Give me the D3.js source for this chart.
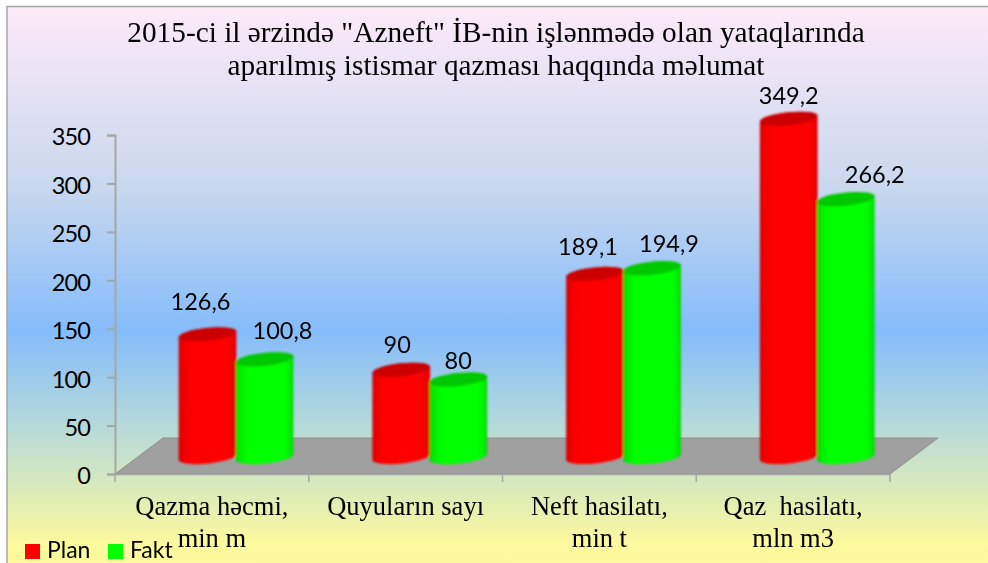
<!DOCTYPE html>
<html><head><meta charset="utf-8">
<script src="https://cdn.jsdelivr.net/npm/d3@7"></script>
<style>html,body{margin:0;padding:0;background:#fff;overflow:hidden}svg{display:block}</style>
</head><body><div id="c"></div>
<script>
const categories = [["Qazma həcmi,","min m"],["Quyuların sayı"],["Neft hasilatı,","min t"],["Qaz  hasilatı,","mln m3"]];
const planValues = [126.6, 90, 189.1, 349.2];
const factValues = [100.8, 80, 194.9, 266.2];
const planLabels = ["126,6","90","189,1","349,2"];
const factLabels = ["100,8","80","194,9","266,2"];
const yTicks = [0,50,100,150,200,250,300,350];
const seriesNames = ["Plan","Fakt"];
const titleLines = ['2015-ci il ərzində "Azneft" İB-nin işlənmədə olan yataqlarında','aparılmış istismar qazması haqqında məlumat'];

const W=988,H=563;
const svg=d3.select("#c").append("svg").attr("width",W).attr("height",H);
const defs=svg.append("defs");
const bg=defs.append("linearGradient").attr("id","bg").attr("x1",0).attr("y1",0).attr("x2",0).attr("y2",1);
[[0,"#fdeaf9"],[0.32,"#c9d8ee"],[0.58,"#85bcfb"],[0.74,"#b3d8dc"],[0.84,"#d3e7c0"],[0.96,"#fcf99e"],[1,"#fdf99c"]].forEach(s=>bg.append("stop").attr("offset",s[0]).attr("stop-color",s[1]));
function cyl(id,edge,near,mid){const g=defs.append("linearGradient").attr("id",id);
 [[0,edge],[0.05,near],[0.22,mid],[0.85,mid],[0.96,near],[1,edge]].forEach(s=>g.append("stop").attr("offset",s[0]).attr("stop-color",s[1]));}
cyl("red","#d00000","#ea0000","#ff0000");cyl("green","#00d000","#00ea00","#00ff00");
defs.append("filter").attr("id","soft").append("feGaussianBlur").attr("stdDeviation",0.8);

svg.append("rect").attr("x",7).attr("y",6.5).attr("width",W-7+5).attr("height",H-6.5+3).attr("fill","url(#bg)").attr("stroke","#a6a6a6").attr("stroke-width",1.5);

const x=d3.scaleBand().domain(d3.range(categories.length)).range([115,890]);
const y=d3.scaleLinear().domain([0,350]).range([474,135]);
const inner=d3.scaleBand().domain([0,1]).range([64,178]);

// floor
const floorDepthX=48, floorDepthY=36;
const floor=d3.path();
floor.moveTo(115,474);floor.lineTo(115+floorDepthX,474-floorDepthY);floor.lineTo(890+floorDepthX,474-floorDepthY);floor.lineTo(890,474);floor.closePath();
svg.append("path").attr("d",floor.toString()).attr("fill","#a0a0a0").attr("stroke","#8f8f8f").attr("stroke-width",1);

// axes
const yAxis=d3.axisLeft(y).tickValues(yTicks).tickSize(8).tickPadding(17);
const gy=svg.append("g").attr("transform","translate(115,0)").call(yAxis);
const xAxis=d3.axisBottom(x).tickValues([]).tickSizeOuter(0);
const gx=svg.append("g").attr("transform","translate(0,474)").call(xAxis);
gx.selectAll("line.sep").data(d3.range(categories.length+1)).enter().append("line").attr("class","sep")
 .attr("x1",i=>x.range()[0]+i*x.bandwidth()).attr("x2",i=>x.range()[0]+i*x.bandwidth()).attr("y1",0).attr("y2",8).attr("stroke","#a6a6a6").attr("stroke-width",1.5);
[gy,gx].forEach(g=>{g.selectAll(".domain,.tick line").attr("stroke","#a6a6a6").attr("stroke-width",g===gy?2:1.5);});
gy.selectAll("text").attr("font-family","Lato, sans-serif").attr("font-size",23.5).attr("letter-spacing",-0.9).attr("dy","0.42em").attr("fill","#000");

// cylinders
const rx=29, ry=6.5, tilt=-6, lift=17;
const dx=rx*Math.cos(tilt*Math.PI/180), dy=rx*Math.sin(tilt*Math.PI/180);
function side(cx,v){const t=y(v)-lift,b=y(0)-lift;
 return `M${cx-dx},${t-dy}A${rx},${ry} ${tilt} 0 1 ${cx+dx},${t+dy}L${cx+dx},${b+dy}A${rx},${ry} ${tilt} 0 1 ${cx-dx},${b-dy}Z`;}
const series=[{vals:planValues,labs:planLabels,fill:"url(#red)",top:"#cc0000",i:0,nudge:[[-7,-24],[-4,-17],[-7,-19],[0,-15]]},
              {vals:factValues,labs:factLabels,fill:"url(#green)",top:"#00c800",i:1,nudge:[[18,-20],[0,-11],[17,-16],[29,-16]]}];
const barsG=svg.append("g").attr("filter","url(#soft)");
const order=[];categories.forEach((c,k)=>series.forEach(s=>order.push({k,s})));
order.forEach(({k,s})=>{
 const cx=x(k)+inner(s.i)+inner.bandwidth()/2, v=s.vals[k];
 barsG.append("path").attr("d",side(cx,v)).attr("fill",s.fill);
 barsG.append("ellipse").attr("rx",rx).attr("ry",ry).attr("fill",s.top)
  .attr("transform",`translate(${cx},${y(v)-lift}) rotate(${tilt})`);
});
// data labels
order.forEach(({k,s})=>{
 const cx=x(k)+inner(s.i)+inner.bandwidth()/2, v=s.vals[k];
 svg.append("text").attr("x",cx+s.nudge[k][0]).attr("y",y(v)-lift+s.nudge[k][1]).attr("text-anchor","middle")
  .attr("font-family","Lato, sans-serif").attr("font-size",23.5).attr("fill","#000").text(s.labs[k]);
});

// category labels
categories.forEach((lines,k)=>{
 lines.forEach((t,j)=>svg.append("text").attr("x",x(k)+x.bandwidth()/2).attr("y",515+j*32)
  .attr("text-anchor","middle").attr("font-family","'Liberation Serif', serif").attr("font-size",26.5).attr("fill","#000").style("white-space","pre").text(t));
});

// title
titleLines.forEach((t,j)=>svg.append("text").attr("x",496).attr("y",42+j*33).attr("text-anchor","middle")
 .attr("font-family","'Liberation Serif', serif").attr("font-size",29.3).attr("fill","#000").text(t));

// legend
const lg=[{x:25,c:"#ff0000"},{x:108,c:"#00ff00"}];
lg.forEach((l,i)=>{svg.append("rect").attr("x",l.x).attr("y",544).attr("width",15).attr("height",15).attr("fill",l.c);
 svg.append("text").attr("x",l.x+22).attr("y",558).attr("font-family","Lato, sans-serif").attr("font-size",23).attr("fill","#000").text(seriesNames[i]);});
</script></body></html>
